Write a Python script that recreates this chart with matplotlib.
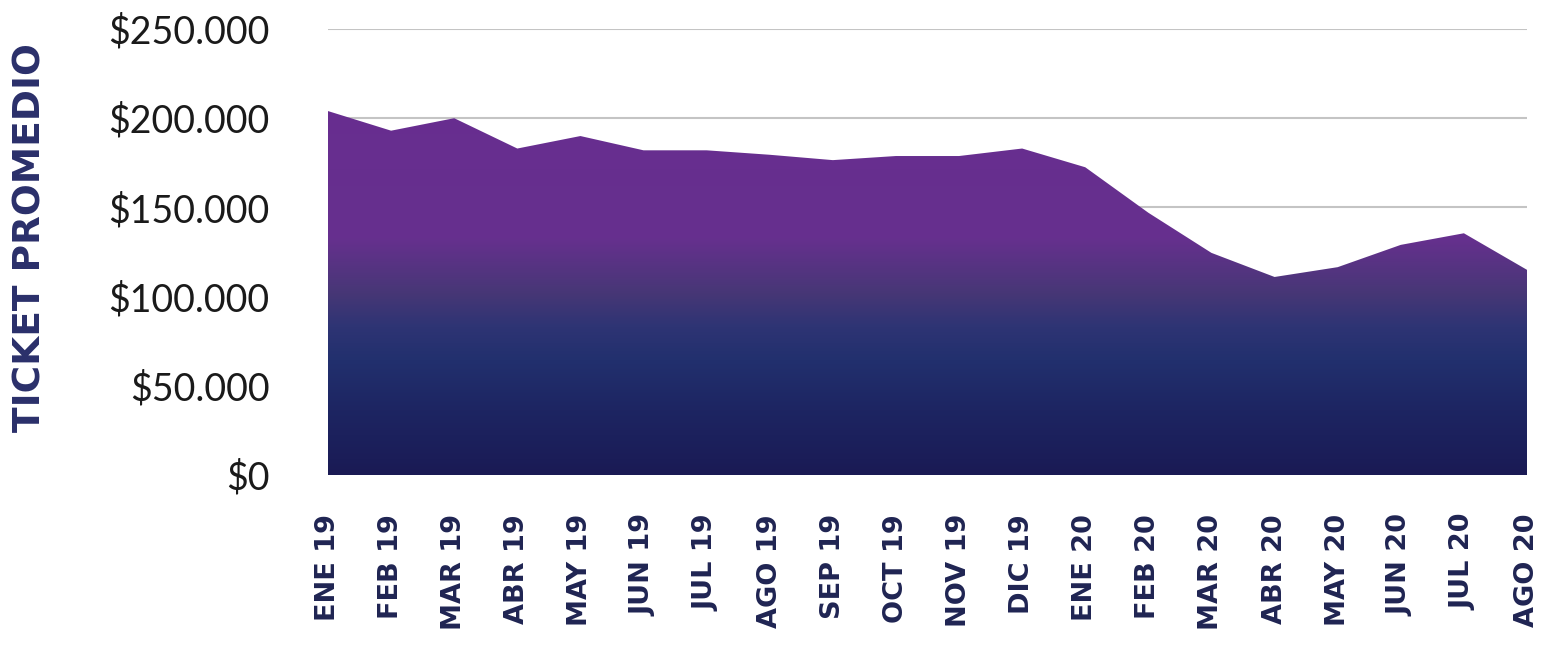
import matplotlib
matplotlib.use("Agg")
import matplotlib.pyplot as plt
import numpy as np
from matplotlib.colors import LinearSegmentedColormap

months = ["ENE 19", "FEB 19", "MAR 19", "ABR 19", "MAY 19", "JUN 19", "JUL 19",
          "AGO 19", "SEP 19", "OCT 19", "NOV 19", "DIC 19", "ENE 20", "FEB 20",
          "MAR 20", "ABR 20", "MAY 20", "JUN 20", "JUL 20", "AGO 20"]
ticket = [204000, 193000, 200000, 183000, 190000, 182000, 182000, 179500,
          176500, 178800, 178800, 183000, 172500, 147000, 124500, 111000,
          116500, 129000, 135500, 115000]
yticks = [0, 50000, 100000, 150000, 200000, 250000]
ytick_labels = ["$0", "$50.000", "$100.000", "$150.000", "$200.000", "$250.000"]

plt.rcParams['font.family'] = ['Lato', 'DejaVu Sans']

fig = plt.figure(figsize=(15.55, 6.48), dpi=100)
ax = fig.add_axes([328/1555, 1-475/648, (1527-328)/1555, (475-29)/648])

x = np.arange(len(months))
ymax = 250000

# gradient fill
stops = [(0.0, "#1a1a54"), (0.034, "#1b1d58"), (0.144, "#1d2562"),
         (0.258, "#22306e"), (0.332, "#2e3474"), (0.408, "#473776"),
         (0.53, "#66308e"), (1.0, "#692c91")]
cmap = LinearSegmentedColormap.from_list("grad", stops)
grad = np.linspace(0, 1, 512).reshape(-1, 1)
im = ax.imshow(grad, cmap=cmap, aspect='auto', origin='lower',
               extent=[0, len(months)-1, 0, ymax], zorder=2, interpolation='bilinear')
poly = ax.fill_between(x, 0, ticket, color='none', lw=0, zorder=1)
path = poly.get_paths()[0]
im.set_clip_path(path, transform=ax.transData)

ax.set_xlim(0, len(months)-1)
ax.set_ylim(0, ymax)
ax.set_yticks(yticks)
ax.set_yticklabels(ytick_labels, fontsize=27, color="#1a1a1a")
ax.set_xticks(x)
ax.set_xticklabels(months, rotation=90, fontsize=19.5, fontweight='bold',
                   color="#1f2452", family=['DejaVu Sans'])
ax.tick_params(axis='y', length=0, pad=42)
ax.tick_params(axis='x', length=0, pad=28)
ax.grid(axis='y', color="#c4c4c4", linewidth=1.5, zorder=0)
ax.set_axisbelow(True)
for s in ax.spines.values():
    s.set_visible(False)

fig.text(31/1555, 1-238/648, "TICKET PROMEDIO", rotation=90, ha='center', va='center',
         fontsize=27, fontweight='bold', color="#2a2f6a", family=['DejaVu Sans'])

fig.savefig("out.png", dpi=100, facecolor='white')
